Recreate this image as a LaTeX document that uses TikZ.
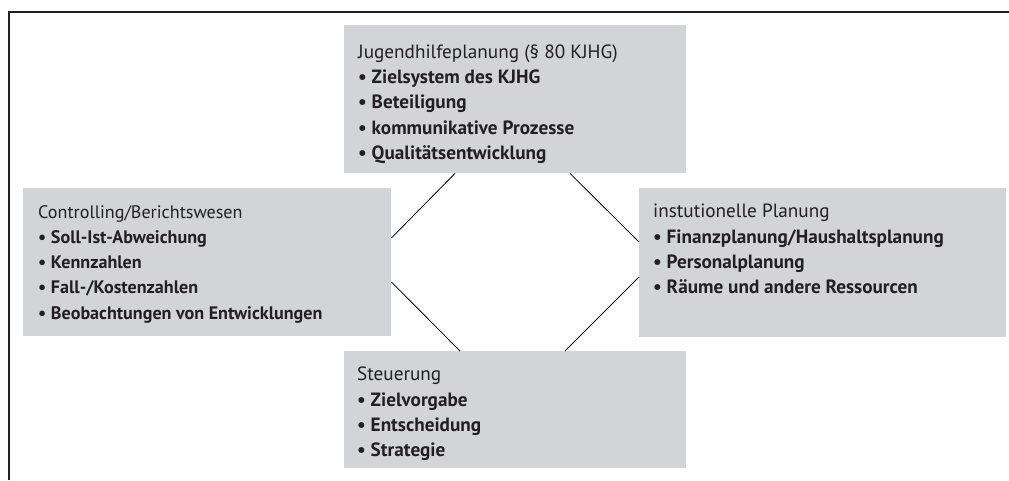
\documentclass[tikz,border=0pt]{standalone}
\usepackage{fontspec}
\setmainfont{PT Sans}
\usetikzlibrary{calc}
\definecolor{boxgray}{RGB}{211,212,214}
\definecolor{ink}{RGB}{35,31,32}
\tikzset{
  box/.style={fill=boxgray, draw=none, anchor=north west, inner sep=0pt},
  boxtext/.style={anchor=north west, inner sep=0pt, align=left, text=ink,
    font=\fontsize{19.2}{25.3}\selectfont},
  smalltext/.style={font=\fontsize{18.1}{25.3}\selectfont},
  link/.style={draw=black, line width=0.8pt},
  frame/.style={draw=ink, line width=1.2pt}
}
\newcommand{\itm}[1]{\textbf{\textbullet\ #1}}
\begin{document}
\begin{tikzpicture}[x=1pt,y=1pt]
\useasboundingbox (0,0) rectangle (1009,-480);
\coordinate (fb) at (9,-480);
\coordinate (fc) at (9,-12);
\coordinate (fr) at (1009,-12);
\draw[frame] (fb) -- (fc) -- (fr);

\node[box, minimum width=342pt, minimum height=148pt] (top) at (344,-25) {};
\node[box, minimum width=368pt, minimum height=148pt] (left) at (23,-188) {};
\node[box, minimum width=367pt, minimum height=149pt] (right) at (639,-188) {};
\node[box, minimum width=342pt, minimum height=117pt] (bot) at (344,-351) {};

\node[boxtext] (toptext) at ($(top.north west)+(14,-19.5)$) {Jugendhilfeplanung (§ 80 KJHG)\\ \itm{Zielsystem des KJHG}\\ \itm{Beteiligung}\\ \itm{kommunikative Prozesse}\\ \itm{Qualitätsentwicklung}};
\node[boxtext, smalltext] (lefttext) at ($(left.north west)+(15,-17)$) {Controlling/Berichtswesen\\ \itm{Soll-Ist-Abweichung}\\ \itm{Kennzahlen}\\ \itm{Fall-/Kostenzahlen}\\ \itm{Beobachtungen von Entwicklungen}};
\node[boxtext] (righttext) at ($(right.north west)+(14,-16)$) {instutionelle Planung\\ \itm{Finanzplanung/Haushaltsplanung}\\ \itm{Personalplanung}\\ \itm{Räume und andere Ressourcen}};
\node[boxtext] (bottext) at ($(bot.north west)+(13,-16)$) {Steuerung\\ \itm{Zielvorgabe}\\ \itm{Entscheidung}\\ \itm{Strategie}};

\draw[link] ($(top.south west)+(111,0)$) -- ($(left.north east)+(0,-50)$);
\draw[link] ($(top.south west)+(226,0)$) -- ($(right.north west)+(0,-54)$);
\draw[link] ($(left.north east)+(0,-94)$) -- ($(bot.north west)+(116,0)$);
\draw[link] ($(right.north west)+(0,-89)$) -- ($(bot.north west)+(221,0)$);
\end{tikzpicture}
\end{document}
